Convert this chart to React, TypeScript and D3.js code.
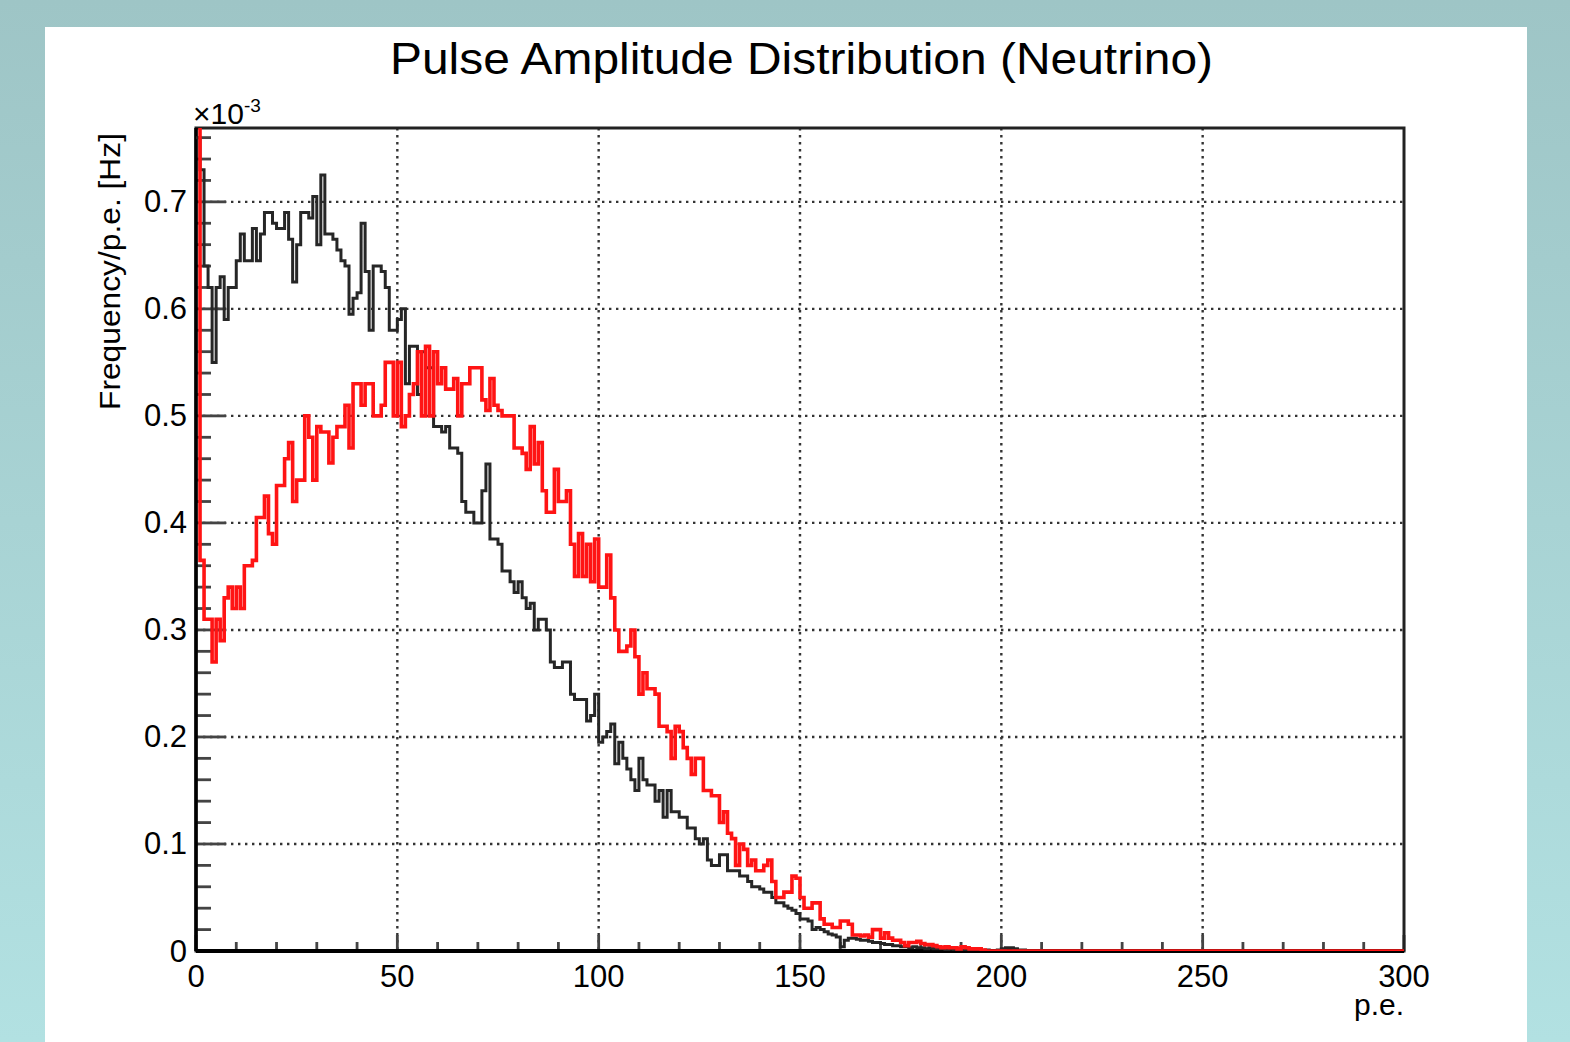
import React from "react";
import * as d3 from "d3";

// histogram contents, one bin per p.e. (units of 1e-3 Hz)
const blackCounts = [
  0.76, 0.73, 0.64, 0.62, 0.55, 0.62, 0.63, 0.59, 0.62, 0.62,
  0.645, 0.67, 0.645, 0.645, 0.675, 0.645, 0.67, 0.69, 0.69, 0.68,
  0.675, 0.675, 0.69, 0.665, 0.625, 0.66, 0.69, 0.69, 0.685, 0.705,
  0.66, 0.725, 0.67, 0.67, 0.665, 0.655, 0.645, 0.64, 0.595, 0.61,
  0.615, 0.68, 0.635, 0.58, 0.64, 0.64, 0.635, 0.62, 0.58, 0.58,
  0.59, 0.6, 0.53, 0.565, 0.565, 0.52, 0.56, 0.545, 0.545, 0.49,
  0.49, 0.485, 0.49, 0.47, 0.47, 0.465, 0.42, 0.41, 0.41, 0.4,
  0.4, 0.43, 0.455, 0.385, 0.385, 0.38, 0.355, 0.355, 0.345, 0.335,
  0.345, 0.33, 0.32, 0.325, 0.3, 0.31, 0.31, 0.3, 0.27, 0.265,
  0.265, 0.27, 0.27, 0.24, 0.235, 0.235, 0.235, 0.215, 0.22, 0.24,
  0.195, 0.2, 0.205, 0.212, 0.175, 0.195, 0.18, 0.17, 0.16, 0.15,
  0.18, 0.16, 0.155, 0.155, 0.14, 0.15, 0.125, 0.15, 0.13, 0.13,
  0.125, 0.125, 0.115, 0.115, 0.105, 0.1, 0.105, 0.085, 0.08, 0.08,
  0.09, 0.09, 0.075, 0.075, 0.075, 0.07, 0.07, 0.065, 0.06, 0.06,
  0.058, 0.055, 0.055, 0.05, 0.045, 0.045, 0.042, 0.04, 0.038, 0.035,
  0.03, 0.03, 0.028, 0.02, 0.022, 0.02, 0.018, 0.016, 0.015, 0.013,
  0.004, 0.01, 0.012, 0.012, 0.011, 0.01, 0.01, 0.009, 0.008, 0.008,
  0.007, 0.006, 0.006, 0.005, 0.005, 0.004, 0.004, 0.003, 0.004, 0.003,
  0.003, 0.002, 0.003, 0.002, 0.002, 0.002, 0.001, 0.002, 0.001, 0.001,
  0.001, 0.001, 0.001, 0.001, 0.001, 0, 0.001, 0, 0, 0.001,
  0.002, 0.003, 0.003, 0.002, 0.001, 0.001, 0, 0, 0, 0,
  0, 0, 0, 0, 0, 0, 0, 0, 0, 0, 0, 0, 0, 0, 0, 0, 0, 0, 0, 0,
  0, 0, 0, 0, 0, 0, 0, 0, 0, 0, 0, 0, 0, 0, 0, 0, 0, 0, 0, 0,
  0, 0, 0, 0, 0, 0, 0, 0, 0, 0, 0, 0, 0, 0, 0, 0, 0, 0, 0, 0,
  0, 0, 0, 0, 0, 0, 0, 0, 0, 0, 0, 0, 0, 0, 0, 0, 0, 0, 0, 0,
  0, 0, 0, 0, 0, 0, 0, 0, 0, 0,
];

const redCounts = [
  0.95, 0.365, 0.31, 0.31, 0.27, 0.31, 0.29, 0.33, 0.34, 0.32,
  0.34, 0.32, 0.36, 0.36, 0.365, 0.405, 0.405, 0.425, 0.39, 0.38,
  0.435, 0.435, 0.46, 0.475, 0.42, 0.44, 0.44, 0.5, 0.48, 0.44,
  0.49, 0.485, 0.485, 0.456, 0.48, 0.49, 0.49, 0.51, 0.47, 0.53,
  0.53, 0.51, 0.53, 0.53, 0.5, 0.5, 0.51, 0.55, 0.55, 0.5,
  0.55, 0.49, 0.5, 0.52, 0.53, 0.56, 0.5, 0.565, 0.5, 0.56,
  0.53, 0.545, 0.525, 0.525, 0.535, 0.5, 0.53, 0.53, 0.545, 0.545,
  0.545, 0.515, 0.505, 0.535, 0.51, 0.505, 0.5, 0.5, 0.5, 0.47,
  0.47, 0.465, 0.45, 0.49, 0.455, 0.475, 0.43, 0.41, 0.41, 0.45,
  0.42, 0.42, 0.43, 0.38, 0.35, 0.39, 0.35, 0.38, 0.345, 0.385,
  0.34, 0.34, 0.37, 0.33, 0.3, 0.28, 0.28, 0.285, 0.3, 0.275,
  0.24, 0.26, 0.245, 0.245, 0.24, 0.21, 0.21, 0.205, 0.18, 0.21,
  0.205, 0.19, 0.18, 0.165, 0.18, 0.18, 0.15, 0.15, 0.145, 0.145,
  0.12, 0.13, 0.11, 0.105, 0.08, 0.1, 0.095, 0.08, 0.085, 0.075,
  0.075, 0.08, 0.085, 0.065, 0.05, 0.05, 0.055, 0.055, 0.07, 0.068,
  0.05, 0.04, 0.04, 0.045, 0.045, 0.03, 0.025, 0.025, 0.022, 0.022,
  0.028, 0.028, 0.025, 0.015, 0.015, 0.014, 0.015, 0.013, 0.02, 0.02,
  0.012, 0.017, 0.012, 0.01, 0.01, 0.008, 0.005, 0.008, 0.008, 0.009,
  0.007, 0.006, 0.006, 0.005, 0.004, 0.003, 0.004, 0.003, 0.003, 0.002,
  0.004, 0.003, 0.002, 0.002, 0.002, 0.001, 0, 0, 0, 0,
  0, 0, 0, 0, 0, 0, 0, 0, 0, 0, 0, 0, 0, 0, 0, 0, 0, 0, 0, 0,
  0, 0, 0, 0, 0, 0, 0, 0, 0, 0, 0, 0, 0, 0, 0, 0, 0, 0, 0, 0,
  0, 0, 0, 0, 0, 0, 0, 0, 0, 0, 0, 0, 0, 0, 0, 0, 0, 0, 0, 0,
  0, 0, 0, 0, 0, 0, 0, 0, 0, 0, 0, 0, 0, 0, 0, 0, 0, 0, 0, 0,
  0, 0, 0, 0, 0, 0, 0, 0, 0, 0, 0, 0, 0, 0, 0, 0, 0, 0, 0, 0,
];

const xTickValues = [0, 50, 100, 150, 200, 250, 300];
const yTickValues = [0, 0.1, 0.2, 0.3, 0.4, 0.5, 0.6, 0.7];

const titleText = "Pulse Amplitude Distribution (Neutrino)";
const xTitle = "p.e.";
const yTitle = "Frequency/p.e. [Hz]";

const W = 1570;
const H = 1042;
const frame = { left: 196, right: 1404, top: 128, bottom: 951 };
const font = "'Liberation Sans', Arial, Helvetica, sans-serif";

export default function App() {
  const x = d3.scaleLinear().domain([0, 300]).range([frame.left, frame.right]);
  const y = d3.scaleLinear().domain([0, 0.769]).range([frame.bottom, frame.top]);

  const stepPath = (counts: number[]) => {
    const pts: [number, number][] = counts.map((v, i) => [i, v]);
    pts.push([counts.length, counts[counts.length - 1]]);
    return d3
      .line<[number, number]>()
      .x((d) => x(d[0]))
      .y((d) => y(d[1]))
      .curve(d3.curveStepAfter)(pts) as string;
  };

  const xMinor = d3.range(0, 301, 10).filter((v) => v % 50 !== 0);
  const yMinor = d3.range(0, 0.761, 0.02).filter((v) => Math.abs(v * 10 - Math.round(v * 10)) > 1e-6);
  const fmt = (v: number) => (v === 0 ? "0" : d3.format(".1f")(v));

  return (
    <svg
      width={W}
      height={H}
      style={{ position: "absolute", left: 0, top: 0, display: "block" }}
      fontFamily={font}
    >
      <defs>
        <linearGradient id="bg" x1="0" y1="0" x2="0" y2="1">
          <stop offset="0" stopColor="#9ec5c6" />
          <stop offset="1" stopColor="#b2e1e2" />
        </linearGradient>
        <clipPath id="plot">
          <rect x={frame.left} y={frame.top} width={frame.right - frame.left} height={frame.bottom - frame.top} />
        </clipPath>
      </defs>
      <rect x={0} y={0} width={W} height={H} fill="url(#bg)" />
      <rect x={45} y={27} width={1482} height={H - 27} fill="#ffffff" />

      <text
        x={390}
        y={74}
        fontSize={44}
        fill="#000"
        textLength={823}
        lengthAdjust="spacingAndGlyphs"
      >
        {titleText}
      </text>

      {/* grid */}
      <g stroke="#333" strokeWidth={2.4} strokeDasharray="2.4 4.6">
        {xTickValues.slice(1, -1).map((v) => (
          <line key={"gx" + v} x1={x(v)} x2={x(v)} y1={frame.top} y2={frame.bottom} />
        ))}
        {yTickValues.slice(1).map((v) => (
          <line key={"gy" + v} x1={frame.left} x2={frame.right} y1={y(v)} y2={y(v)} />
        ))}
      </g>

      {/* ticks */}
      <g stroke="#444" strokeWidth={2.8}>
        {yTickValues.map((v) => (
          <line key={"ty" + v} x1={frame.left} x2={frame.left + 30} y1={y(v)} y2={y(v)} />
        ))}
        {yMinor.map((v) => (
          <line key={"tym" + v} x1={frame.left} x2={frame.left + 15} y1={y(v)} y2={y(v)} />
        ))}
        {xTickValues.map((v) => (
          <line key={"tx" + v} x1={x(v)} x2={x(v)} y1={frame.bottom} y2={frame.bottom - 16} />
        ))}
        {xMinor.map((v) => (
          <line key={"txm" + v} x1={x(v)} x2={x(v)} y1={frame.bottom} y2={frame.bottom - 9} />
        ))}
      </g>

      <rect
        x={frame.left}
        y={frame.top}
        width={frame.right - frame.left}
        height={frame.bottom - frame.top}
        fill="none"
        stroke="#222"
        strokeWidth={3}
      />
      <line x1={frame.left} x2={frame.right} y1={frame.bottom} y2={frame.bottom} stroke="#000" strokeWidth={4} />
      <line x1={frame.left} x2={frame.left} y1={frame.top} y2={frame.bottom} stroke="#000" strokeWidth={3.5} />

      {/* histograms */}
      <g clipPath="url(#plot)" fill="none" strokeLinejoin="miter">
        <path d={stepPath(blackCounts)} stroke="#262626" strokeWidth={3} />
        <path d={stepPath(redCounts)} stroke="#ff1414" strokeWidth={3.6} />
      </g>

      {/* labels */}
      <g fontSize={31} fill="#000">
        {yTickValues.map((v) => (
          <text key={"ly" + v} x={frame.left - 9} y={y(v)} textAnchor="end" dominantBaseline="central">
            {fmt(v)}
          </text>
        ))}
        {xTickValues.map((v) => (
          <text key={"lx" + v} x={x(v)} y={987} textAnchor="middle">
            {v}
          </text>
        ))}
        <text x={frame.right} y={1015} textAnchor="end" fontSize={30}>
          {xTitle}
        </text>
        <text
          transform={`translate(120, 133) rotate(-90)`}
          textAnchor="end"
          fontSize={30}
          textLength={277}
          lengthAdjust="spacingAndGlyphs"
        >
          {yTitle}
        </text>
        <text x={193} y={124} fontSize={30}>
          ×10
          <tspan dy={-12} fontSize={19}>
            -3
          </tspan>
        </text>
      </g>
    </svg>
  );
}
